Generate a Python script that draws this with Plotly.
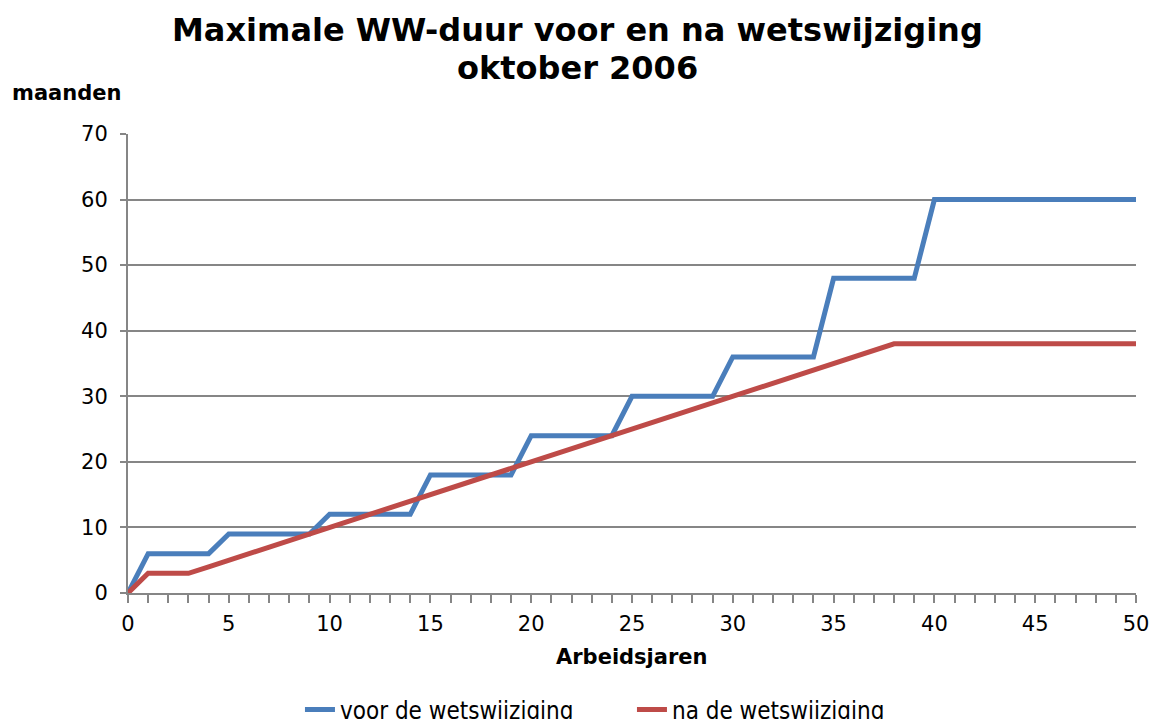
import plotly.graph_objects as go

years = list(range(0, 51))
voor = [0, 6, 6, 6, 6, 9, 9, 9, 9, 9,
        12, 12, 12, 12, 12, 18, 18, 18, 18, 18,
        24, 24, 24, 24, 24, 30, 30, 30, 30, 30,
        36, 36, 36, 36, 36, 48, 48, 48, 48, 48] + [60] * 11
na = [0, 3, 3, 3, 4, 5, 6, 7, 8, 9,
      10, 11, 12, 13, 14, 15, 16, 17, 18, 19,
      20, 21, 22, 23, 24, 25, 26, 27, 28, 29,
      30, 31, 32, 33, 34, 35, 36, 37, 38, 38] + [38] * 11
series_names = ["voor de wetswijziging", "na de wetswijziging"]
x_ticks = list(range(0, 51, 5))
y_ticks = list(range(0, 71, 10))

FONT = "DejaVu Sans"
GRID = "#868686"

fig = go.Figure()
fig.add_trace(go.Scatter(x=years, y=voor, mode="lines", name=series_names[0],
                         line=dict(color="#4A7EBB", width=5)))
fig.add_trace(go.Scatter(x=years, y=na, mode="lines", name=series_names[1],
                         line=dict(color="#BE4B48", width=5)))

fig.update_layout(
    width=1151, height=719,
    paper_bgcolor="white", plot_bgcolor="white",
    margin=dict(l=128, r=15, t=134, b=126, autoexpand=False),
    font=dict(family=FONT, size=21, color="black"),
    showlegend=True,
    legend=dict(orientation="h", x=0.1706, xanchor="left", y=-0.2545, yanchor="middle",
                font=dict(family="DejaVu Sans Condensed, DejaVu Sans", size=24),
                entrywidth=287, entrywidthmode="pixels", tracegroupgap=0),
    xaxis=dict(range=[0, 50], tickvals=x_ticks, ticks="outside", ticklen=8,
               tickcolor=GRID, tickwidth=1.5, showline=True, linecolor=GRID, linewidth=2,
               showgrid=False, zeroline=False, ticklabelstandoff=3,
               minor=dict(dtick=1, ticks="outside", ticklen=8, tickcolor=GRID,
                          tickwidth=1.5, showgrid=False),
               tickfont=dict(size=21)),
    yaxis=dict(range=[0, 70], tickvals=y_ticks, ticks="outside", ticklen=6,
               tickcolor=GRID, tickwidth=1.5, showline=True, linecolor=GRID, linewidth=2,
               showgrid=True, gridcolor=GRID, gridwidth=1.5, zeroline=False,
               ticklabelstandoff=8, tickfont=dict(size=21)),
)

title_lines = ["Maximale WW-duur voor en na wetswijziging", "oktober 2006"]
for txt, yy in zip(title_lines, [1.2266, 1.1438]):
    fig.add_annotation(text="<b>" + txt + "</b>", xref="paper", yref="paper",
                       x=0.4464, y=yy, xanchor="center", yanchor="middle",
                       showarrow=False, font=dict(family=FONT, size=32, color="black"))
fig.add_annotation(text="<b>maanden</b>", xref="paper", yref="paper",
                   x=-0.1171, y=1.0893, xanchor="left", yanchor="middle",
                   showarrow=False, font=dict(family=FONT, size=21, color="black"))
fig.add_annotation(text="<b>Arbeidsjaren</b>", xref="paper", yref="paper",
                   x=0.5, y=-0.1394, xanchor="center", yanchor="middle",
                   showarrow=False, font=dict(family=FONT, size=21, color="black"))

fig.write_html("out.html", config={"displayModeBar": False},
               post_script="document.body.style.margin='0';")
